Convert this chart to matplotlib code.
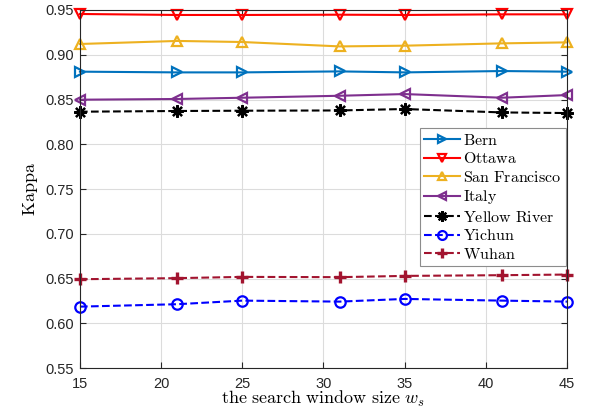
import matplotlib
matplotlib.use("Agg")
import matplotlib.pyplot as plt

plt.rcParams['mathtext.fontset'] = 'cm'
plt.rcParams['font.family'] = ['Liberation Sans', 'DejaVu Sans']

window_sizes = [15, 21, 25, 31, 35, 41, 45]
bern = [0.8811, 0.8803, 0.8803, 0.8814, 0.8803, 0.8818, 0.8811]
ottawa = [0.9455, 0.9444, 0.9444, 0.9447, 0.9444, 0.9451, 0.9451]
san_francisco = [0.912, 0.9154, 0.9142, 0.9093, 0.9101, 0.9127, 0.9138]
italy = [0.8498, 0.8506, 0.852, 0.8542, 0.8561, 0.852, 0.855]
yellow_river = [0.8364, 0.8372, 0.8375, 0.8378, 0.8394, 0.8356, 0.8349]
yichun = [0.6188, 0.6215, 0.6255, 0.6244, 0.6274, 0.6255, 0.6244]
wuhan = [0.6494, 0.6506, 0.652, 0.6517, 0.6531, 0.6539, 0.6546]

series = [
    ("Bern", bern, "#0072BD", ">", "-"),
    ("Ottawa", ottawa, "#FF0000", "v", "-"),
    ("San\\ Francisco", san_francisco, "#EDB120", "^", "-"),
    ("Italy", italy, "#7E2F8E", "<", "-"),
    ("Yellow\\ River", yellow_river, "#000000", "*", "--"),
    ("Yichun", yichun, "#0000FF", "o", "--"),
    ("Wuhan", wuhan, "#A2142F", "+", "--"),
]

fig = plt.figure(figsize=(5.92, 4.18), dpi=100)
ax = fig.add_axes([0.135, 0.119, 0.8226, 0.8572])

for name, vals, color, marker, ls in series:
    lab = r'$\mathrm{' + name + '}$'
    if marker == "*":
        ax.plot(window_sizes, vals, ls=ls, color=color, lw=1.5, marker=(8, 2, 0),
                ms=9, mfc=color, mec=color, mew=1.6, label=lab, clip_on=False)
    elif marker == "+":
        ax.plot(window_sizes, vals, ls=ls, color=color, lw=1.5, marker="+",
                ms=9, mec=color, mew=2.4, label=lab, clip_on=False)
    else:
        ax.plot(window_sizes, vals, ls=ls, color=color, lw=1.5, marker=marker,
                ms=7.5, mfc='none', mec=color, mew=1.6, label=lab, clip_on=False)

ax.set_xlim(15, 45)
ax.set_ylim(0.55, 0.95)
ax.set_xticks([15, 20, 25, 30, 35, 40, 45])
ax.set_yticks([0.55, 0.60, 0.65, 0.70, 0.75, 0.80, 0.85, 0.90, 0.95])
ax.set_yticklabels(["0.55", "0.60", "0.65", "0.70", "0.75", "0.80", "0.85", "0.90", "0.95"])
ax.grid(True, color="#dcdcdc", lw=0.8)
ax.set_axisbelow(True)
ax.tick_params(direction='in', top=True, right=True, labelsize=10.5, length=4,
               colors='#262626')
ax.tick_params(axis='x', pad=6)
ax.tick_params(axis='y', pad=4)
for s in ax.spines.values():
    s.set_color('#262626')
    s.set_linewidth(0.8)

ax.set_xlabel(r'$\mathrm{the\ search\ window\ size}\ w_s$', fontsize=13, labelpad=-1)
ax.set_ylabel(r'$\mathrm{Kappa}$', fontsize=13, labelpad=4)

leg = ax.legend(loc='upper right', bbox_to_anchor=(0.998, 0.671), fontsize=11.5,
                fancybox=False, edgecolor='#8c8c8c', framealpha=1, handlelength=2.2,
                labelspacing=0.22, borderpad=0.3, handletextpad=0.2, borderaxespad=0,
                markerscale=0.85)
leg.get_frame().set_linewidth(0.8)
leg.set_zorder(10)

fig.savefig("out.png", dpi=100)
